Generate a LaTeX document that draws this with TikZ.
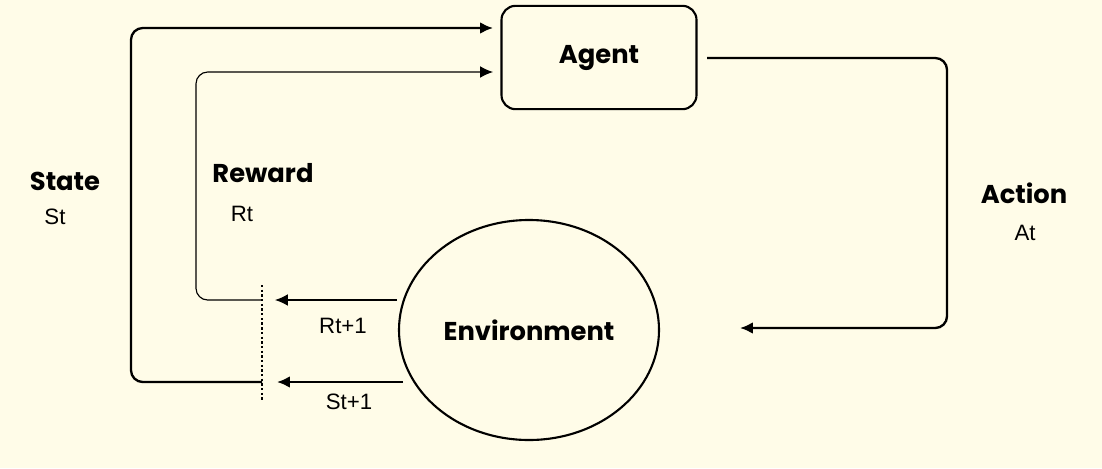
\documentclass[tikz,border=0pt]{standalone}
\usepackage{fontspec}
\setmainfont{Poppins}
\newfontfamily\plainfont{Liberation Sans}
\usepackage{tikz}
\usetikzlibrary{positioning,arrows.meta,calc,shapes.geometric}
\definecolor{paper}{RGB}{255,252,232}
\tikzset{
  flow/.style={line width=2pt,-{Latex[length=11pt,width=10pt]},rounded corners=10pt},
  thinflow/.style={line width=1pt,-{Latex[length=11pt,width=10pt]},rounded corners=10pt},
  title/.style={font=\bfseries\fontsize{22}{26}\selectfont},
  small/.style={font=\plainfont\fontsize{19}{22}\selectfont}
}
\begin{document}
\begin{tikzpicture}[x=0.03cm,y=-0.03cm]
\fill[paper] (0,0) rectangle (1102,468);
\useasboundingbox (0,0) rectangle (1102,468);
%agent and environment
\node (agent) at (599,57.5) [draw,line width=1.8pt,rounded corners=12pt,minimum width=5.85cm,minimum height=3.1cm,title] {Agent};
\node (env) at (529,330) [draw,ellipse,line width=1.8pt,minimum width=7.8cm,minimum height=6.6cm,title] {Environment};
%split line
\coordinate (top) at (262,285);
\coordinate (bot) at (262,402);
\draw[line width=2pt,dotted] (top) -- (bot);
\coordinate (rin) at (262,300);
\coordinate (sin) at (262,382);
%action
\coordinate (aout) at (707,58);
\coordinate (ain) at (740,328);
\draw[flow] (aout) -- (947,58) -- (947,328) -- (ain);
%state and reward
\coordinate (stin) at (493,28);
\coordinate (rtin) at (493,72);
\draw[flow] (sin) -- (131,382) -- (131,28) -- (stin);
\draw[thinflow] (rin) -- (196,300) -- (196,72) -- (rtin);
\coordinate (rout) at (397,300);
\coordinate (sout) at (403,382);
\draw[thinflow] (rout) -- (275,300);
\draw[flow] (sout) -- (277,382);
%labels
\node (lstate) at (65,181) [title] {State};
\node (lst) at (55,217) [small] {St};
\node (lreward) at (263,173) [title] {Reward};
\node (lrt) at (242,214) [small] {Rt};
\node (laction) at (1024,193) [title] {Action};
\node (lat) at (1025,233) [small] {At};
\node (lrt1) at (343,326) [small] {Rt+1};
\node (lst1) at (349,402) [small] {St+1};
\end{tikzpicture}
\end{document}
